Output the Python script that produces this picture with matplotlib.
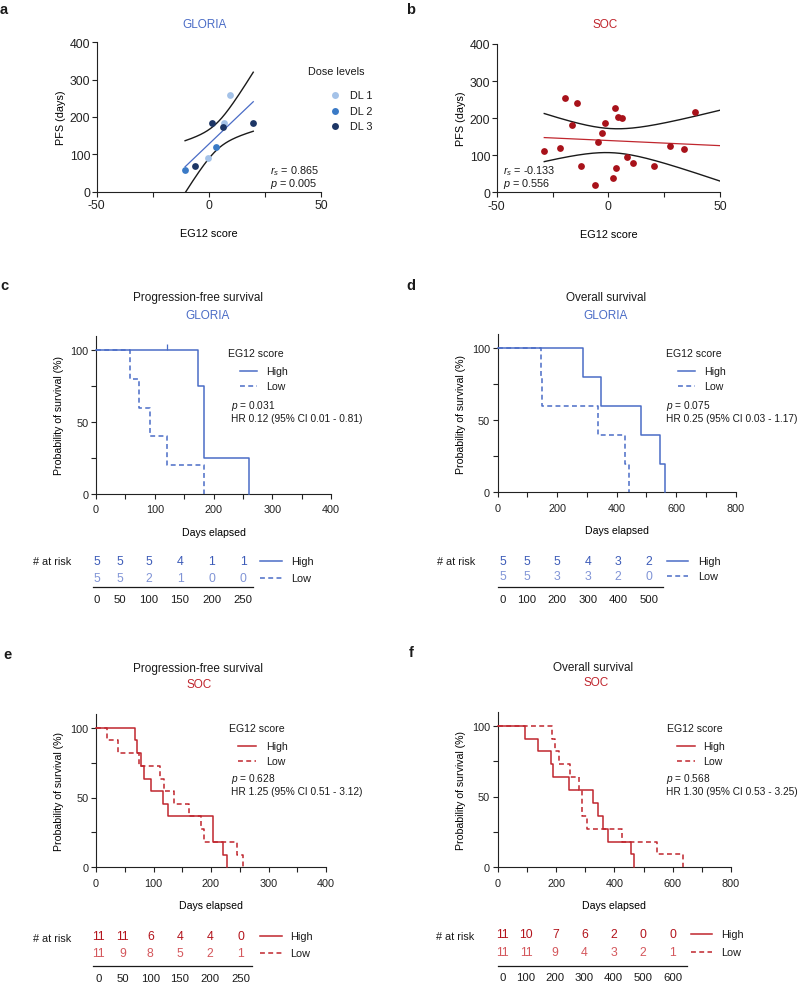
import matplotlib
matplotlib.use("Agg")
import matplotlib.pyplot as plt
import numpy as np
from matplotlib.lines import Line2D
from matplotlib.ticker import MultipleLocator

plt.rcParams.update({
    "font.family": ["Liberation Sans", "DejaVu Sans"],
    "font.size": 7.5,
    "mathtext.fontset": "custom",
    "mathtext.rm": "Liberation Sans",
    "mathtext.it": "Liberation Sans:italic",
    "axes.unicode_minus": False,
    "axes.linewidth": 0.8,
    "axes.edgecolor": "#222222",
    "xtick.color": "#222222",
    "ytick.color": "#222222",
})

# --------------------------------------------------------------------------- #
#  Data
# --------------------------------------------------------------------------- #

# a: GLORIA, EG12 score vs PFS, by dose level
dose_levels = ["DL 1", "DL 2", "DL 3"]
gloria_dose = [2, 3, 1, 2, 3, 1, 3, 1, 3]
gloria_eg12 = [-10.6, -6.0, -0.2, 3.1, 1.6, 6.9, 6.3, 9.5, 19.8]
gloria_pfs = [58, 70, 91, 120, 183, 183, 173, 260, 183]
gloria_stats = [r"$r_s$ = 0.865", r"$p$ = 0.005"]

# b: SOC
soc_eg12 = [-28.7, -21.8, -19.4, -14.2, -16.1, -12.4, -5.8, -4.6, -2.8, -1.6,
            2.2, 3.0, 3.6, 4.5, 6.3, 8.5, 11.2, 20.5, 27.6, 33.9, 38.9]
soc_pfs = [112, 119, 254, 242, 181, 70, 20, 137, 161, 187,
           39, 228, 66, 202, 201, 95, 78, 71, 126, 118, 217]
soc_stats = [r"$r_s$ = -0.133", r"$p$ = 0.556"]

# c: GLORIA PFS
c_high_t = [0, 174, 184, 260]
c_high_s = [100, 75, 25, 0]
c_high_cens = [120]
c_low_t = [0, 58, 73, 92, 121, 183]
c_low_s = [100, 80, 60, 40, 20, 0]
c_times = [0, 50, 100, 150, 200, 250]
c_risk_high = [5, 5, 5, 4, 1, 1]
c_risk_low = [5, 5, 2, 1, 0, 0]
c_stats = [r"$p$ = 0.031", "HR 0.12 (95% CI 0.01 - 0.81)"]

# d: GLORIA OS
d_high_t = [0, 286, 347, 482, 547, 561]
d_high_s = [100, 80, 60, 40, 20, 0]
d_low_t = [0, 144, 150, 337, 428, 440]
d_low_s = [100, 80, 60, 40, 20, 0]
d_times = [0, 100, 200, 300, 400, 500]
d_risk_high = [5, 5, 5, 4, 3, 2]
d_risk_low = [5, 5, 3, 3, 2, 0]
d_stats = [r"$p$ = 0.075", "HR 0.25 (95% CI 0.03 - 1.17)"]

# e: SOC PFS
e_high_t = [0, 67, 72, 78, 84, 96, 117, 126, 203, 220, 228]
e_high_s = [100, 90.9, 81.8, 72.7, 63.6, 54.5, 45.5, 36.4, 18.2, 9.1, 0]
e_low_t = [0, 19, 39, 74, 111, 118, 136, 162, 182, 187, 245, 256]
e_low_s = [100, 90.9, 81.8, 72.7, 63.6, 54.5, 45.5, 36.4, 27.3, 18.2, 9.1, 0]
e_times = [0, 50, 100, 150, 200, 250]
e_risk_high = [11, 11, 6, 4, 4, 0]
e_risk_low = [11, 9, 8, 5, 2, 1]
e_stats = [r"$p$ = 0.628", "HR 1.25 (95% CI 0.51 - 3.12)"]

# f: SOC OS
f_high_t = [0, 94, 137, 182, 191, 245, 328, 345, 362, 378, 456, 467]
f_high_s = [100, 90.9, 81.8, 72.7, 63.6, 54.5, 45.5, 36.4, 27.3, 18.2, 9.1, 0]
f_low_t = [0, 185, 196, 211, 248, 280, 288, 305, 425, 545, 634]
f_low_s = [100, 90.9, 81.8, 72.7, 63.6, 54.5, 36.4, 27.3, 18.2, 9.1, 0]
f_times = [0, 100, 200, 300, 400, 500, 600]
f_risk_high = [11, 10, 7, 6, 2, 0, 0]
f_risk_low = [11, 11, 9, 4, 3, 2, 1]
f_stats = [r"$p$ = 0.568", "HR 1.30 (95% CI 0.53 - 3.25)"]

# --------------------------------------------------------------------------- #
#  Colours
# --------------------------------------------------------------------------- #

BLUE = "#4a6cc6"
BLUE_HI = "#3c5bb8"
BLUE_LO = "#8094d6"
RED = "#c0262e"
RED_HI = "#b3141c"
RED_LO = "#d4575c"
DL_COLS = ["#a4c2e8", "#3a7ac6", "#1d3666"]
SOC_PT = "#a8121a"
INK = "#1a1a1a"

T975 = {7: 2.365, 19: 2.093}

W, H = 800, 987
fig = plt.figure(figsize=(W / 100, H / 100), dpi=100)


def fx(x):
    return x / W


def fy(y):
    return 1 - y / H


def ftext(x, y, s, **kw):
    kw.setdefault("va", "center")
    kw.setdefault("color", INK)
    fig.text(fx(x), fy(y), s, **kw)


def fline(x0, x1, y, **kw):
    fig.add_artist(Line2D([fx(x0), fx(x1)], [fy(y), fy(y)],
                          transform=fig.transFigure, **kw))


def add_ax(l, t, r, b):
    return fig.add_axes([fx(l), fy(b), (r - l) / W, (b - t) / H])


def style(ax, size, xpad, ypad):
    for s in ("top", "right"):
        ax.spines[s].set_visible(False)
    ax.tick_params(which="both", direction="out", length=3.5, width=0.8,
                   labelsize=size)
    ax.tick_params(axis="x", pad=xpad)
    ax.tick_params(axis="y", pad=ypad)


def fit_band(ax, x, y, x0, x1, color):
    x = np.asarray(x, float)
    y = np.asarray(y, float)
    n = len(x)
    b, a = np.polyfit(x, y, 1)
    res = y - (a + b * x)
    s = np.sqrt((res ** 2).sum() / (n - 2))
    sxx = ((x - x.mean()) ** 2).sum()
    xs = np.linspace(x0, x1, 200)
    yh = a + b * xs
    half = T975[n - 2] * s * np.sqrt(1 / n + (xs - x.mean()) ** 2 / sxx)
    ax.plot(xs, yh, color=color, lw=0.9)
    ax.plot(xs, yh + half, color=INK, lw=1.0)
    ax.plot(xs, yh - half, color=INK, lw=1.0)


# --------------------------------------------------------------------------- #
#  a / b scatter panels
# --------------------------------------------------------------------------- #

def scatter_axes(l, t, r, b):
    ax = add_ax(l, t, r, b)
    style(ax, 8.8, 2.0, 1.2)
    ax.set_xlim(-50, 50)
    ax.set_ylim(0, 400)
    ax.xaxis.set_major_locator(MultipleLocator(50))
    ax.xaxis.set_minor_locator(MultipleLocator(25))
    ax.yaxis.set_major_locator(MultipleLocator(100))
    ax.set_ylabel("PFS (days)", fontsize=7.8, labelpad=2.5)
    ax.set_xlabel("EG12 score", fontsize=7.8, labelpad=12)
    return ax


ax = scatter_axes(96.7, 43.3, 321, 192.7)
fit_band(ax, gloria_eg12, gloria_pfs, min(gloria_eg12), max(gloria_eg12), BLUE)
for k, lab in enumerate(dose_levels):
    xs = [x for x, d in zip(gloria_eg12, gloria_dose) if d == k + 1]
    ys = [y for y, d in zip(gloria_pfs, gloria_dose) if d == k + 1]
    ax.scatter(xs, ys, s=24, color=DL_COLS[k], lw=0, zorder=3, clip_on=False)
ftext(3.5, 10, "a", fontsize=10.5, fontweight="bold", ha="center")
ftext(205, 25, "GLORIA", fontsize=8.5, color=BLUE, ha="center")
ftext(270, 171.5, gloria_stats[0], fontsize=7.8)
ftext(270, 184, gloria_stats[1], fontsize=7.8)
ftext(308, 72, "Dose levels", fontsize=7.8)
for k, lab in enumerate(dose_levels):
    yy = [96, 112, 127][k]
    fig.add_artist(Line2D([fx(335)], [fy(yy)], transform=fig.transFigure,
                          marker="o", ms=5, mew=0, color=DL_COLS[k], ls=""))
    ftext(349.5, yy, lab, fontsize=7.8)

ax = scatter_axes(496.7, 45, 720, 193.3)
fit_band(ax, soc_eg12, soc_pfs, min(soc_eg12), 50, RED)
ax.scatter(soc_eg12, soc_pfs, s=24, color=SOC_PT, lw=0, zorder=3, clip_on=False)
ftext(411, 10, "b", fontsize=10.5, fontweight="bold", ha="center")
ftext(605, 25.5, "SOC", fontsize=8.5, color=RED, ha="center")
ftext(503, 171.5, soc_stats[0], fontsize=7.8)
ftext(503, 184, soc_stats[1], fontsize=7.8)

# --------------------------------------------------------------------------- #
#  c-f Kaplan-Meier panels
# --------------------------------------------------------------------------- #

DASH = (0, (3.2, 2.2))


def km_panel(box, xmax, xmajor, curves, color, cens=None):
    l, y0, r, y100 = box
    top = y0 - (y0 - y100) * 1.1
    ax = add_ax(l, top, r, y0)
    style(ax, 7.8, 4.0, 2.0)
    ax.set_xlim(0, xmax)
    ax.set_ylim(0, 110)
    ax.spines["left"].set_bounds(0, 110)
    ax.xaxis.set_major_locator(MultipleLocator(xmajor))
    ax.xaxis.set_minor_locator(MultipleLocator(xmajor / 2))
    ax.yaxis.set_major_locator(MultipleLocator(50))
    ax.yaxis.set_minor_locator(MultipleLocator(25))
    ax.set_ylabel("Probability of survival (%)", fontsize=7.6, labelpad=4.5)
    ax.set_xlabel("Days elapsed", fontsize=7.6, labelpad=9)
    (ht, hs), (lt, ls_) = curves
    ax.step(ht, hs, where="post", color=color, lw=1.1, clip_on=False, zorder=3)
    ax.step(lt, ls_, where="post", color=color, lw=1.1, ls=DASH,
            clip_on=False, zorder=3)
    if cens:
        ax.plot(cens, [100] * len(cens), ls="", marker=2, ms=4, mew=0.9,
                color=color, clip_on=False)
    return ax


def km_legend(x_title, y_title, x_line, x_text, ys, x_stat, ys_stat, color, stats):
    ftext(x_title, y_title, "EG12 score", fontsize=7.6)
    fline(x_line, x_line + 17.5, ys[0], color=color, lw=1.1)
    fline(x_line, x_line + 17.5, ys[1], color=color, lw=1.1, ls=DASH)
    ftext(x_text, ys[0], "High", fontsize=7.6)
    ftext(x_text, ys[1], "Low", fontsize=7.6)
    ftext(x_stat, ys_stat[0], stats[0], fontsize=7.3)
    ftext(x_stat, ys_stat[1], stats[1], fontsize=7.3)


def risk_table(x_lab, y_lab, cols, y_hi, y_lo, hi, lo, times, c_hi, c_lo,
               x_line, x_text, x_rule, y_rule, y_times, color):
    ftext(x_lab, y_lab, "# at risk", fontsize=7.8)
    for cx, nh, nl, tt in zip(cols, hi, lo, times):
        ftext(cx, y_hi, str(nh), fontsize=8.8, color=c_hi, ha="center")
        ftext(cx, y_lo, str(nl), fontsize=8.8, color=c_lo, ha="center")
        ftext(cx, y_times, str(tt), fontsize=8.2, ha="center")
    fline(x_line[0], x_line[1], y_hi, color=color, lw=1.1)
    fline(x_line[0], x_line[1], y_lo, color=color, lw=1.1, ls=DASH)
    ftext(x_text, y_hi, "High", fontsize=7.8)
    ftext(x_text, y_lo, "Low", fontsize=7.8)
    fline(x_rule[0], x_rule[1], y_rule, color=INK, lw=0.9)


# c
km_panel((96, 495, 331, 351), 400, 100,
         [(c_high_t, c_high_s), (c_low_t, c_low_s)], BLUE, cens=c_high_cens)
ftext(4, 286, "c", fontsize=10.5, fontweight="bold", ha="center")
ftext(198, 298.3, "Progression-free survival", fontsize=8.5, ha="center")
ftext(208, 315.7, "GLORIA", fontsize=8.5, color=BLUE, ha="center")
km_legend(227.7, 354.3, 239.5, 265.7, (372.3, 387), 231, (405.7, 419), BLUE, c_stats)
risk_table(33.3, 562.3, [97, 120, 148.7, 180, 211.7, 243.3], 562.3, 579,
           c_risk_high, c_risk_low, c_times, BLUE_HI, BLUE_LO,
           (260, 281.7), 291, (93.3, 253.3), 588.3, 600, BLUE)

# d
km_panel((497.7, 493.3, 735.7, 349.3), 800, 200,
         [(d_high_t, d_high_s), (d_low_t, d_low_s)], BLUE)
ftext(411, 286, "d", fontsize=10.5, fontweight="bold", ha="center")
ftext(606, 297.7, "Overall survival", fontsize=8.5, ha="center")
ftext(606, 315.7, "GLORIA", fontsize=8.5, color=BLUE, ha="center")
km_legend(665.7, 354.3, 677.7, 704, (372.3, 387), 666, (405.7, 419), BLUE, d_stats)
risk_table(436.7, 561.7, [502.7, 527, 557.3, 588, 618.3, 649], 561.7, 577.3,
           d_risk_high, d_risk_low, d_times, BLUE_HI, BLUE_LO,
           (666.7, 688.3), 698.3, (497.7, 663.3), 588.3, 600, BLUE)

# e
km_panel((96, 868.3, 326, 728.7), 400, 100,
         [(e_high_t, e_high_s), (e_low_t, e_low_s)], RED)
ftext(7, 655, "e", fontsize=10.5, fontweight="bold", ha="center")
ftext(198, 669, "Progression-free survival", fontsize=8.5, ha="center")
ftext(199, 685, "SOC", fontsize=8.5, color=RED, ha="center")
km_legend(228.7, 729, 238, 265.7, (747, 761.7), 231, (778.7, 792.3), RED, e_stats)
risk_table(33.3, 939.3, [98.7, 122.7, 150.3, 180, 210, 240.7], 936.7, 954.3,
           e_risk_high, e_risk_low, e_times, RED_HI, RED_LO,
           (260, 281.7), 290, (92.7, 251.7), 966.7, 979.3, RED)

# f
km_panel((497.7, 868.3, 731, 726.7), 800, 200,
         [(f_high_t, f_high_s), (f_low_t, f_low_s)], RED)
ftext(411, 653, "f", fontsize=10.5, fontweight="bold", ha="center")
ftext(592.7, 667.7, "Overall survival", fontsize=8.5, ha="center")
ftext(596.5, 683.3, "SOC", fontsize=8.5, color=RED, ha="center")
km_legend(666.7, 729, 677, 703.3, (747, 761.7), 666, (779, 792.3), RED, f_stats)
risk_table(436, 936.7, [502.7, 526, 555.3, 584.3, 613.7, 643, 672.7], 935, 953.3,
           f_risk_high, f_risk_low, f_times, RED_HI, RED_LO,
           (691, 712.3), 720.7, (497.7, 687.3), 966.7, 978.3, RED)

fig.savefig("out.png", dpi=100, facecolor="white")
